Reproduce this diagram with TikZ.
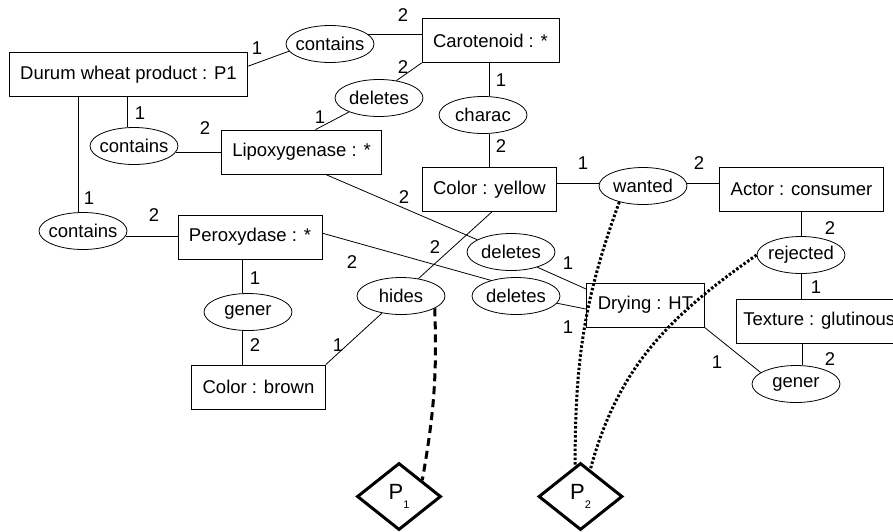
\documentclass[tikz,border=0pt]{standalone}
\usepackage{fontspec}
\setmainfont{Liberation Sans}
\usetikzlibrary{shapes.geometric}

\begin{document}
\begin{tikzpicture}[x=1pt, y=-1pt, line width=0.8pt,
    font=\fontsize{18.5}{22}\selectfont,
    box/.style={draw, rectangle, minimum height=44pt, inner xsep=11pt},
    rel/.style={draw, ellipse, minimum width=88pt, minimum height=37pt,
        inner xsep=-6pt, inner ysep=0pt},
    proc/.style={draw, diamond, line width=3pt, minimum width=84pt,
        minimum height=67pt, inner sep=0pt, font=\fontsize{22}{26}\selectfont},
    dashline/.style={line width=3pt, dash pattern=on 8pt off 5pt},
    dotline/.style={line width=3pt, dash pattern=on 2.5pt off 2pt}]
    \useasboundingbox (0,0) rectangle (893,531);
    \clip (0,0) rectangle (893,531);

    \node[box] (durum) at (128.5,74.5) {Durum wheat product : P1};
    \node[box] (carot) at (490.5,40.5) {Carotenoid : *};
    \node[box] (lipox) at (301.5,152) {Lipoxygenase : *};
    \node[box] (perox) at (250,237) {Peroxydase : *};
    \node[box] (yellow) at (489.5,189.5) {Color : yellow};
    \node[box] (brown) at (258.5,387) {Color : brown};
    \node[box] (actor) at (801.5,189.5) {Actor : consumer};
    \node[box] (drying) at (645.5,305) {Drying : HT};
    \node[box, anchor=west, inner xsep=7pt] (texture) at (736,321) {Texture : glutinous};

    \node[rel] (ctop) at (330,44) {contains};
    \node[rel] (cmid) at (134,146) {contains};
    \node[rel] (cbot) at (83,231) {contains};
    \node[rel] (delA) at (379,98) {deletes};
    \node[rel] (delB) at (511,252) {deletes};
    \node[rel] (delC) at (516,296) {deletes};
    \node[rel] (charac) at (483,115) {charac};
    \node[rel] (hides) at (401,296) {hides};
    \node[rel] (generL) at (248,312) {gener};
    \node[rel] (wanted) at (643,186) {wanted};
    \node[rel] (rejected) at (801,255) {rejected};
    \node[rel] (generR) at (796,384) {gener};

    \node[proc] (p1) at (399,496.5) {P\raisebox{-9pt}{\fontsize{11}{11}\selectfont 1}};
    \node[proc] (p2) at (580.5,496.5) {P\raisebox{-9pt}{\fontsize{11}{11}\selectfont 2}};

    \draw (durum.4) -- (ctop.190);
    \draw (ctop.14) -- (ctop.14 -| carot.west);
    \draw (carot.south west) -- (delA.45);
    \draw (delA.205) -- (lipox.58);
    \draw (cmid.110 |- durum.south) -- (cmid.110);
    \draw (cmid.-8) -- (cmid.-8 -| lipox.west);
    \draw (cbot.105 |- durum.south) -- (cbot.105);
    \draw (cbot.-7) -- (cbot.-7 -| perox.west);
    \draw (lipox.-43) -- (delB.160);
    \draw (perox.3) -- (delC.148);
    \draw (charac.72 |- carot.south) -- (charac.72);
    \draw (charac.-72) -- (charac.-72 |- yellow.north);
    \draw (yellow.-84) -- (hides.45);
    \draw (delB.-30) -- (drying.165);
    \draw (delC.-10) -- (drying.184);
    \draw (brown.north east) -- (hides.222);
    \draw (generL.108 |- perox.south) -- (generL.108);
    \draw (generL.252) -- (generL.252 |- brown.north);
    \draw (wanted.176 -| yellow.east) -- (wanted.176);
    \draw (wanted.4) -- (wanted.4 -| actor.west);
    \draw (rejected.north |- actor.south) -- (rejected.north);
    \draw (rejected.south) -- (rejected.south |- texture.north);
    \draw (generR.72 |- texture.south) -- (generR.72);
    \draw (drying.south east) -- (generR.162);

    \foreach \x/\y/\t [count=\i] in {257/48/1, 403/15/2, 403/67/2, 320/117/1,
        140/113/1, 205/128/2, 501/80/1, 501/146/2, 404/197/2, 89/198/1,
        154/215/2, 435/247/2, 352/262/2, 255/278/1, 255/345/2, 338/345/1,
        583/163/1, 699/163/2, 568/263/1, 568/327/1, 830/228/2, 816/287/1,
        830/359/2, 717/362/1}
        \node (num\i) at (\x,\y) {\t};

    \draw[dashline] (hides.-20) to[out=-88, in=80] (p1.35);
    \draw[dotline] (wanted.214) to[out=250, in=90] (p2.100);
    \draw[dotline] (rejected.180) to[out=215, in=75] (p2.70);
\end{tikzpicture}
\end{document}
